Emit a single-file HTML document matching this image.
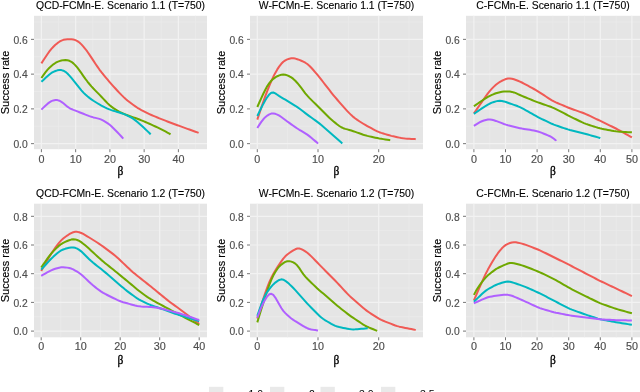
<!DOCTYPE html><html><head><meta charset="utf-8"><style>html,body{margin:0;padding:0;background:#fff;width:640px;height:392px;overflow:hidden}svg{display:block;filter:blur(0.45px)}text{font-family:"Liberation Sans",sans-serif}</style></head><body>
<svg width="640" height="392" viewBox="0 0 640 392">
<rect x="34" y="15.8" width="173" height="133.4" fill="#E5E5E5"/>
<line x1="34" x2="207" y1="126.27" y2="126.27" stroke="#EAEAEA" stroke-width="0.9"/>
<line x1="34" x2="207" y1="91.51" y2="91.51" stroke="#EAEAEA" stroke-width="0.9"/>
<line x1="34" x2="207" y1="56.75" y2="56.75" stroke="#EAEAEA" stroke-width="0.9"/>
<line x1="34" x2="207" y1="21.99" y2="21.99" stroke="#EAEAEA" stroke-width="0.9"/>
<line x1="58.52" x2="58.52" y1="15.8" y2="149.2" stroke="#EAEAEA" stroke-width="0.9"/>
<line x1="92.78" x2="92.78" y1="15.8" y2="149.2" stroke="#EAEAEA" stroke-width="0.9"/>
<line x1="127.03" x2="127.03" y1="15.8" y2="149.2" stroke="#EAEAEA" stroke-width="0.9"/>
<line x1="161.28" x2="161.28" y1="15.8" y2="149.2" stroke="#EAEAEA" stroke-width="0.9"/>
<line x1="195.53" x2="195.53" y1="15.8" y2="149.2" stroke="#EAEAEA" stroke-width="0.9"/>
<line x1="34" x2="207" y1="143.65" y2="143.65" stroke="#F2F2F2" stroke-width="1.2"/>
<line x1="34" x2="207" y1="108.89" y2="108.89" stroke="#F2F2F2" stroke-width="1.2"/>
<line x1="34" x2="207" y1="74.13" y2="74.13" stroke="#F2F2F2" stroke-width="1.2"/>
<line x1="34" x2="207" y1="39.37" y2="39.37" stroke="#F2F2F2" stroke-width="1.2"/>
<line x1="41.4" x2="41.4" y1="15.8" y2="149.2" stroke="#F2F2F2" stroke-width="1.2"/>
<line x1="75.65" x2="75.65" y1="15.8" y2="149.2" stroke="#F2F2F2" stroke-width="1.2"/>
<line x1="109.9" x2="109.9" y1="15.8" y2="149.2" stroke="#F2F2F2" stroke-width="1.2"/>
<line x1="144.15" x2="144.15" y1="15.8" y2="149.2" stroke="#F2F2F2" stroke-width="1.2"/>
<line x1="178.4" x2="178.4" y1="15.8" y2="149.2" stroke="#F2F2F2" stroke-width="1.2"/>
<line x1="31" x2="34" y1="143.65" y2="143.65" stroke="#666" stroke-width="0.9"/>
<text transform="translate(27.7 147.95) scale(1.03 1)" font-size="10" fill="#4D4D4D" stroke="#4D4D4D" stroke-width="0.15" text-anchor="end">0.0</text>
<line x1="31" x2="34" y1="108.89" y2="108.89" stroke="#666" stroke-width="0.9"/>
<text transform="translate(27.7 113.19) scale(1.03 1)" font-size="10" fill="#4D4D4D" stroke="#4D4D4D" stroke-width="0.15" text-anchor="end">0.2</text>
<line x1="31" x2="34" y1="74.13" y2="74.13" stroke="#666" stroke-width="0.9"/>
<text transform="translate(27.7 78.43) scale(1.03 1)" font-size="10" fill="#4D4D4D" stroke="#4D4D4D" stroke-width="0.15" text-anchor="end">0.4</text>
<line x1="31" x2="34" y1="39.37" y2="39.37" stroke="#666" stroke-width="0.9"/>
<text transform="translate(27.7 43.67) scale(1.03 1)" font-size="10" fill="#4D4D4D" stroke="#4D4D4D" stroke-width="0.15" text-anchor="end">0.6</text>
<line x1="41.4" x2="41.4" y1="149.2" y2="152.2" stroke="#666" stroke-width="0.9"/>
<text transform="translate(41.4 162.6) scale(1.08 1)" font-size="10" fill="#4D4D4D" stroke="#4D4D4D" stroke-width="0.15" text-anchor="middle">0</text>
<line x1="75.65" x2="75.65" y1="149.2" y2="152.2" stroke="#666" stroke-width="0.9"/>
<text transform="translate(75.65 162.6) scale(1.08 1)" font-size="10" fill="#4D4D4D" stroke="#4D4D4D" stroke-width="0.15" text-anchor="middle">10</text>
<line x1="109.9" x2="109.9" y1="149.2" y2="152.2" stroke="#666" stroke-width="0.9"/>
<text transform="translate(109.9 162.6) scale(1.08 1)" font-size="10" fill="#4D4D4D" stroke="#4D4D4D" stroke-width="0.15" text-anchor="middle">20</text>
<line x1="144.15" x2="144.15" y1="149.2" y2="152.2" stroke="#666" stroke-width="0.9"/>
<text transform="translate(144.15 162.6) scale(1.08 1)" font-size="10" fill="#4D4D4D" stroke="#4D4D4D" stroke-width="0.15" text-anchor="middle">30</text>
<line x1="178.4" x2="178.4" y1="149.2" y2="152.2" stroke="#666" stroke-width="0.9"/>
<text transform="translate(178.4 162.6) scale(1.08 1)" font-size="10" fill="#4D4D4D" stroke="#4D4D4D" stroke-width="0.15" text-anchor="middle">40</text>
<path d="M41.4 63.35L43.4 60.28L45.4 57.22L47.4 54.23L49.4 51.43L51.4 48.94L53.4 46.76L55.4 44.83L57.4 43.16L59.4 41.74L61.4 40.6L63.4 39.83L65.4 39.41L67.4 39.21L69.4 39.16L71.4 39.24L73.4 39.52L75.4 40.11L77.4 41.11L79.4 42.54L81.4 44.38L83.4 46.57L85.4 49.02L87.4 51.71L89.4 54.61L91.4 57.62L93.4 60.66L95.4 63.69L97.4 66.68L99.4 69.54L101.4 72.21L103.4 74.71L105.4 77.11L107.4 79.48L109.4 81.81L111.4 84.09L113.4 86.32L115.4 88.52L117.4 90.71L119.4 92.85L121.4 94.91L123.4 96.88L125.4 98.74L127.4 100.43L129.4 102L131.4 103.5L133.4 104.97L135.4 106.41L137.4 107.77L139.4 108.98L141.4 110.08L143.4 111.11L145.4 112.13L147.4 113.13L149.4 114.09L151.4 115L153.4 115.87L155.4 116.7L157.4 117.53L159.4 118.35L161.4 119.15L163.4 119.93L165.4 120.69L167.4 121.44L169.4 122.2L171.4 122.95L173.4 123.7L175.4 124.45L177.4 125.19L179.4 125.93L181.4 126.66L183.4 127.38L185.4 128.1L187.4 128.83L189.4 129.55L191.4 130.27L193.4 130.99L195.4 131.71L197.4 132.41L198.61 132.92" fill="none" stroke="#F05A55" stroke-width="2.0" stroke-linecap="butt" stroke-linejoin="round"/>
<path d="M41.4 77.96L43.4 75.15L45.4 72.44L47.4 69.94L49.4 67.79L51.4 65.95L53.4 64.32L55.4 62.95L57.4 61.9L59.4 61.11L61.4 60.51L63.4 60.14L65.4 60.05L67.4 60.23L69.4 60.77L71.4 61.8L73.4 63.37L75.4 65.36L77.4 67.71L79.4 70.37L81.4 73.2L83.4 76.07L85.4 78.86L87.4 81.51L89.4 84L91.4 86.34L93.4 88.53L95.4 90.61L97.4 92.63L99.4 94.66L101.4 96.74L103.4 98.88L105.4 101.03L107.4 103.11L109.4 105L111.4 106.64L113.4 108.1L115.4 109.45L117.4 110.69L119.4 111.78L121.4 112.74L123.4 113.64L125.4 114.49L127.4 115.26L129.4 115.98L131.4 116.66L133.4 117.33L135.4 118.01L137.4 118.72L139.4 119.49L141.4 120.31L143.4 121.17L145.4 122.03L147.4 122.9L149.4 123.78L151.4 124.68L153.4 125.59L155.4 126.52L157.4 127.44L159.4 128.39L161.4 129.37L163.4 130.41L165.4 131.47L167.4 132.54L169.4 133.59L170.52 134.36" fill="none" stroke="#6FA800" stroke-width="2.0" stroke-linecap="butt" stroke-linejoin="round"/>
<path d="M41.4 81.78L43.4 79.92L45.4 78.06L47.4 76.22L49.4 74.48L51.4 72.97L53.4 71.82L55.4 70.98L57.4 70.36L59.4 70.03L61.4 70.11L63.4 70.68L65.4 71.81L67.4 73.51L69.4 75.61L71.4 77.92L73.4 80.36L75.4 82.87L77.4 85.42L79.4 87.95L81.4 90.4L83.4 92.63L85.4 94.57L87.4 96.28L89.4 97.86L91.4 99.35L93.4 100.74L95.4 102.02L97.4 103.25L99.4 104.43L101.4 105.55L103.4 106.61L105.4 107.63L107.4 108.59L109.4 109.43L111.4 110.15L113.4 110.77L115.4 111.35L117.4 111.94L119.4 112.56L121.4 113.2L123.4 113.88L125.4 114.64L127.4 115.54L129.4 116.57L131.4 117.71L133.4 118.95L135.4 120.36L137.4 121.96L139.4 123.7L141.4 125.49L143.4 127.33L145.4 129.2L147.4 131.1L149.4 132.98L150.66 134.37" fill="none" stroke="#00B8C0" stroke-width="2.0" stroke-linecap="butt" stroke-linejoin="round"/>
<path d="M41.4 109.59L43.4 107.63L45.4 105.7L47.4 103.89L49.4 102.35L51.4 101.19L53.4 100.4L55.4 100L57.4 100.11L59.4 100.74L61.4 101.82L63.4 103.29L65.4 105.02L67.4 106.69L69.4 108.03L71.4 109.04L73.4 109.88L75.4 110.66L77.4 111.44L79.4 112.23L81.4 113.01L83.4 113.8L85.4 114.59L87.4 115.38L89.4 116.14L91.4 116.83L93.4 117.41L95.4 117.89L97.4 118.35L99.4 118.91L101.4 119.67L103.4 120.66L105.4 121.8L107.4 123.08L109.4 124.56L111.4 126.29L113.4 128.2L115.4 130.19L117.4 132.24L119.4 134.36L121.4 136.52L123.26 138.68" fill="none" stroke="#B060FF" stroke-width="2.0" stroke-linecap="butt" stroke-linejoin="round"/>
<text x="120.5" y="8.6" font-size="10.4" fill="#000" stroke="#000" stroke-width="0.12" text-anchor="middle">QCD-FCMn-E. Scenario 1.1 (T=750)</text>
<text x="120.5" y="175.2" font-size="11.5" fill="#000" stroke="#000" stroke-width="0.3" style="font-family:'Liberation Serif',serif" text-anchor="middle">β</text>
<text transform="translate(8.5 82.5) rotate(-90)" font-size="11" fill="#000" stroke="#000" stroke-width="0.15" text-anchor="middle">Success rate</text>
<rect x="250" y="15.8" width="173" height="133.4" fill="#E5E5E5"/>
<line x1="250" x2="423" y1="126.27" y2="126.27" stroke="#EAEAEA" stroke-width="0.9"/>
<line x1="250" x2="423" y1="91.51" y2="91.51" stroke="#EAEAEA" stroke-width="0.9"/>
<line x1="250" x2="423" y1="56.75" y2="56.75" stroke="#EAEAEA" stroke-width="0.9"/>
<line x1="250" x2="423" y1="21.99" y2="21.99" stroke="#EAEAEA" stroke-width="0.9"/>
<line x1="287.65" x2="287.65" y1="15.8" y2="149.2" stroke="#EAEAEA" stroke-width="0.9"/>
<line x1="348.35" x2="348.35" y1="15.8" y2="149.2" stroke="#EAEAEA" stroke-width="0.9"/>
<line x1="409.05" x2="409.05" y1="15.8" y2="149.2" stroke="#EAEAEA" stroke-width="0.9"/>
<line x1="250" x2="423" y1="143.65" y2="143.65" stroke="#F2F2F2" stroke-width="1.2"/>
<line x1="250" x2="423" y1="108.89" y2="108.89" stroke="#F2F2F2" stroke-width="1.2"/>
<line x1="250" x2="423" y1="74.13" y2="74.13" stroke="#F2F2F2" stroke-width="1.2"/>
<line x1="250" x2="423" y1="39.37" y2="39.37" stroke="#F2F2F2" stroke-width="1.2"/>
<line x1="257.3" x2="257.3" y1="15.8" y2="149.2" stroke="#F2F2F2" stroke-width="1.2"/>
<line x1="318" x2="318" y1="15.8" y2="149.2" stroke="#F2F2F2" stroke-width="1.2"/>
<line x1="378.7" x2="378.7" y1="15.8" y2="149.2" stroke="#F2F2F2" stroke-width="1.2"/>
<line x1="247" x2="250" y1="143.65" y2="143.65" stroke="#666" stroke-width="0.9"/>
<text transform="translate(243.7 147.95) scale(1.03 1)" font-size="10" fill="#4D4D4D" stroke="#4D4D4D" stroke-width="0.15" text-anchor="end">0.0</text>
<line x1="247" x2="250" y1="108.89" y2="108.89" stroke="#666" stroke-width="0.9"/>
<text transform="translate(243.7 113.19) scale(1.03 1)" font-size="10" fill="#4D4D4D" stroke="#4D4D4D" stroke-width="0.15" text-anchor="end">0.2</text>
<line x1="247" x2="250" y1="74.13" y2="74.13" stroke="#666" stroke-width="0.9"/>
<text transform="translate(243.7 78.43) scale(1.03 1)" font-size="10" fill="#4D4D4D" stroke="#4D4D4D" stroke-width="0.15" text-anchor="end">0.4</text>
<line x1="247" x2="250" y1="39.37" y2="39.37" stroke="#666" stroke-width="0.9"/>
<text transform="translate(243.7 43.67) scale(1.03 1)" font-size="10" fill="#4D4D4D" stroke="#4D4D4D" stroke-width="0.15" text-anchor="end">0.6</text>
<line x1="257.3" x2="257.3" y1="149.2" y2="152.2" stroke="#666" stroke-width="0.9"/>
<text transform="translate(257.3 162.6) scale(1.08 1)" font-size="10" fill="#4D4D4D" stroke="#4D4D4D" stroke-width="0.15" text-anchor="middle">0</text>
<line x1="318" x2="318" y1="149.2" y2="152.2" stroke="#666" stroke-width="0.9"/>
<text transform="translate(318 162.6) scale(1.08 1)" font-size="10" fill="#4D4D4D" stroke="#4D4D4D" stroke-width="0.15" text-anchor="middle">10</text>
<line x1="378.7" x2="378.7" y1="149.2" y2="152.2" stroke="#666" stroke-width="0.9"/>
<text transform="translate(378.7 162.6) scale(1.08 1)" font-size="10" fill="#4D4D4D" stroke="#4D4D4D" stroke-width="0.15" text-anchor="middle">20</text>
<path d="M257.3 119.67L259.3 113.65L261.3 107.65L263.3 101.75L265.3 96.09L267.3 90.79L269.3 85.81L271.3 81.13L273.3 76.81L275.3 72.9L277.3 69.39L279.3 66.34L281.3 63.77L283.3 61.75L285.3 60.32L287.3 59.38L289.3 58.73L291.3 58.33L293.3 58.28L295.3 58.61L297.3 59.19L299.3 59.91L301.3 60.75L303.3 61.68L305.3 62.73L307.3 64.02L309.3 65.71L311.3 67.76L313.3 70L315.3 72.31L317.3 74.68L319.3 77.14L321.3 79.68L323.3 82.25L325.3 84.83L327.3 87.41L329.3 89.98L331.3 92.52L333.3 95.01L335.3 97.42L337.3 99.77L339.3 102.09L341.3 104.4L343.3 106.69L345.3 108.91L347.3 111.07L349.3 113.16L351.3 115.12L353.3 116.9L355.3 118.47L357.3 119.91L359.3 121.24L361.3 122.52L363.3 123.75L365.3 124.94L367.3 126.08L369.3 127.17L371.3 128.24L373.3 129.3L375.3 130.35L377.3 131.33L379.3 132.19L381.3 132.92L383.3 133.55L385.3 134.16L387.3 134.76L389.3 135.33L391.3 135.86L393.3 136.34L395.3 136.78L397.3 137.21L399.3 137.63L401.3 138.02L403.3 138.32L405.3 138.52L407.3 138.66L409.3 138.78L411.3 138.89L413.3 139L415.3 139.11L415.73 139.13" fill="none" stroke="#F05A55" stroke-width="2.0" stroke-linecap="butt" stroke-linejoin="round"/>
<path d="M257.3 106.98L259.3 102.51L261.3 98.09L263.3 93.79L265.3 89.72L267.3 86.08L269.3 83.09L271.3 80.74L273.3 78.84L275.3 77.33L277.3 76.22L279.3 75.41L281.3 74.82L283.3 74.56L285.3 74.77L287.3 75.4L289.3 76.28L291.3 77.41L293.3 78.9L295.3 80.79L297.3 82.97L299.3 85.37L301.3 87.96L303.3 90.66L305.3 93.28L307.3 95.68L309.3 97.84L311.3 99.86L313.3 101.84L315.3 103.82L317.3 105.79L319.3 107.78L321.3 109.78L323.3 111.78L325.3 113.79L327.3 115.78L329.3 117.71L331.3 119.53L333.3 121.24L335.3 122.87L337.3 124.47L339.3 125.97L341.3 127.25L343.3 128.19L345.3 128.85L347.3 129.4L349.3 129.95L351.3 130.55L353.3 131.21L355.3 131.9L357.3 132.61L359.3 133.31L361.3 134.01L363.3 134.7L365.3 135.33L367.3 135.89L369.3 136.37L371.3 136.82L373.3 137.26L375.3 137.69L377.3 138.1L379.3 138.48L381.3 138.81L383.3 139.13L385.3 139.43L387.3 139.73L389.3 140.03L390.23 140.18" fill="none" stroke="#6FA800" stroke-width="2.0" stroke-linecap="butt" stroke-linejoin="round"/>
<path d="M257.3 116.02L259.3 111.86L261.3 107.78L263.3 103.89L265.3 100.3L267.3 97.08L269.3 94.44L271.3 92.82L273.3 92.52L275.3 93.35L277.3 94.72L279.3 96.12L281.3 97.39L283.3 98.58L285.3 99.74L287.3 100.91L289.3 102.1L291.3 103.31L293.3 104.53L295.3 105.78L297.3 107.1L299.3 108.53L301.3 110.04L303.3 111.58L305.3 113.11L307.3 114.62L309.3 116.09L311.3 117.53L313.3 118.95L315.3 120.38L317.3 121.84L319.3 123.37L321.3 124.99L323.3 126.69L325.3 128.42L327.3 130.15L329.3 131.9L331.3 133.66L333.3 135.44L335.3 137.22L337.3 139.02L339.3 140.8L341.3 142.59L342.28 143.48" fill="none" stroke="#00B8C0" stroke-width="2.0" stroke-linecap="butt" stroke-linejoin="round"/>
<path d="M257.3 128.01L259.3 124.91L261.3 121.93L263.3 119.28L265.3 117.17L267.3 115.59L269.3 114.38L271.3 113.62L273.3 113.44L275.3 113.82L277.3 114.59L279.3 115.67L281.3 117L283.3 118.46L285.3 119.96L287.3 121.45L289.3 122.92L291.3 124.36L293.3 125.79L295.3 127.19L297.3 128.52L299.3 129.77L301.3 130.95L303.3 132.11L305.3 133.31L307.3 134.63L309.3 136.11L311.3 137.74L313.3 139.43L315.3 141.12L317.3 142.78L318 143.59" fill="none" stroke="#B060FF" stroke-width="2.0" stroke-linecap="butt" stroke-linejoin="round"/>
<text x="336.5" y="8.6" font-size="10.4" fill="#000" stroke="#000" stroke-width="0.12" text-anchor="middle">W-FCMn-E. Scenario 1.1 (T=750)</text>
<text x="336.5" y="175.2" font-size="11.5" fill="#000" stroke="#000" stroke-width="0.3" style="font-family:'Liberation Serif',serif" text-anchor="middle">β</text>
<text transform="translate(224.5 82.5) rotate(-90)" font-size="11" fill="#000" stroke="#000" stroke-width="0.15" text-anchor="middle">Success rate</text>
<rect x="466" y="15.8" width="174" height="133.4" fill="#E5E5E5"/>
<line x1="466" x2="640" y1="126.27" y2="126.27" stroke="#EAEAEA" stroke-width="0.9"/>
<line x1="466" x2="640" y1="91.51" y2="91.51" stroke="#EAEAEA" stroke-width="0.9"/>
<line x1="466" x2="640" y1="56.75" y2="56.75" stroke="#EAEAEA" stroke-width="0.9"/>
<line x1="466" x2="640" y1="21.99" y2="21.99" stroke="#EAEAEA" stroke-width="0.9"/>
<line x1="489.7" x2="489.7" y1="15.8" y2="149.2" stroke="#EAEAEA" stroke-width="0.9"/>
<line x1="521.3" x2="521.3" y1="15.8" y2="149.2" stroke="#EAEAEA" stroke-width="0.9"/>
<line x1="552.9" x2="552.9" y1="15.8" y2="149.2" stroke="#EAEAEA" stroke-width="0.9"/>
<line x1="584.5" x2="584.5" y1="15.8" y2="149.2" stroke="#EAEAEA" stroke-width="0.9"/>
<line x1="616.1" x2="616.1" y1="15.8" y2="149.2" stroke="#EAEAEA" stroke-width="0.9"/>
<line x1="466" x2="640" y1="143.65" y2="143.65" stroke="#F2F2F2" stroke-width="1.2"/>
<line x1="466" x2="640" y1="108.89" y2="108.89" stroke="#F2F2F2" stroke-width="1.2"/>
<line x1="466" x2="640" y1="74.13" y2="74.13" stroke="#F2F2F2" stroke-width="1.2"/>
<line x1="466" x2="640" y1="39.37" y2="39.37" stroke="#F2F2F2" stroke-width="1.2"/>
<line x1="473.9" x2="473.9" y1="15.8" y2="149.2" stroke="#F2F2F2" stroke-width="1.2"/>
<line x1="505.5" x2="505.5" y1="15.8" y2="149.2" stroke="#F2F2F2" stroke-width="1.2"/>
<line x1="537.1" x2="537.1" y1="15.8" y2="149.2" stroke="#F2F2F2" stroke-width="1.2"/>
<line x1="568.7" x2="568.7" y1="15.8" y2="149.2" stroke="#F2F2F2" stroke-width="1.2"/>
<line x1="600.3" x2="600.3" y1="15.8" y2="149.2" stroke="#F2F2F2" stroke-width="1.2"/>
<line x1="631.9" x2="631.9" y1="15.8" y2="149.2" stroke="#F2F2F2" stroke-width="1.2"/>
<line x1="463" x2="466" y1="143.65" y2="143.65" stroke="#666" stroke-width="0.9"/>
<text transform="translate(459.7 147.95) scale(1.03 1)" font-size="10" fill="#4D4D4D" stroke="#4D4D4D" stroke-width="0.15" text-anchor="end">0.0</text>
<line x1="463" x2="466" y1="108.89" y2="108.89" stroke="#666" stroke-width="0.9"/>
<text transform="translate(459.7 113.19) scale(1.03 1)" font-size="10" fill="#4D4D4D" stroke="#4D4D4D" stroke-width="0.15" text-anchor="end">0.2</text>
<line x1="463" x2="466" y1="74.13" y2="74.13" stroke="#666" stroke-width="0.9"/>
<text transform="translate(459.7 78.43) scale(1.03 1)" font-size="10" fill="#4D4D4D" stroke="#4D4D4D" stroke-width="0.15" text-anchor="end">0.4</text>
<line x1="463" x2="466" y1="39.37" y2="39.37" stroke="#666" stroke-width="0.9"/>
<text transform="translate(459.7 43.67) scale(1.03 1)" font-size="10" fill="#4D4D4D" stroke="#4D4D4D" stroke-width="0.15" text-anchor="end">0.6</text>
<line x1="473.9" x2="473.9" y1="149.2" y2="152.2" stroke="#666" stroke-width="0.9"/>
<text transform="translate(473.9 162.6) scale(1.08 1)" font-size="10" fill="#4D4D4D" stroke="#4D4D4D" stroke-width="0.15" text-anchor="middle">0</text>
<line x1="505.5" x2="505.5" y1="149.2" y2="152.2" stroke="#666" stroke-width="0.9"/>
<text transform="translate(505.5 162.6) scale(1.08 1)" font-size="10" fill="#4D4D4D" stroke="#4D4D4D" stroke-width="0.15" text-anchor="middle">10</text>
<line x1="537.1" x2="537.1" y1="149.2" y2="152.2" stroke="#666" stroke-width="0.9"/>
<text transform="translate(537.1 162.6) scale(1.08 1)" font-size="10" fill="#4D4D4D" stroke="#4D4D4D" stroke-width="0.15" text-anchor="middle">20</text>
<line x1="568.7" x2="568.7" y1="149.2" y2="152.2" stroke="#666" stroke-width="0.9"/>
<text transform="translate(568.7 162.6) scale(1.08 1)" font-size="10" fill="#4D4D4D" stroke="#4D4D4D" stroke-width="0.15" text-anchor="middle">30</text>
<line x1="600.3" x2="600.3" y1="149.2" y2="152.2" stroke="#666" stroke-width="0.9"/>
<text transform="translate(600.3 162.6) scale(1.08 1)" font-size="10" fill="#4D4D4D" stroke="#4D4D4D" stroke-width="0.15" text-anchor="middle">40</text>
<line x1="631.9" x2="631.9" y1="149.2" y2="152.2" stroke="#666" stroke-width="0.9"/>
<text transform="translate(631.9 162.6) scale(1.08 1)" font-size="10" fill="#4D4D4D" stroke="#4D4D4D" stroke-width="0.15" text-anchor="middle">50</text>
<path d="M473.9 113.41L475.9 110.5L477.9 107.6L479.9 104.7L481.9 101.82L483.9 98.95L485.9 96.11L487.9 93.38L489.9 90.86L491.9 88.64L493.9 86.63L495.9 84.8L497.9 83.21L499.9 81.89L501.9 80.77L503.9 79.81L505.9 79.05L507.9 78.59L509.9 78.48L511.9 78.75L513.9 79.3L515.9 79.98L517.9 80.72L519.9 81.56L521.9 82.51L523.9 83.55L525.9 84.63L527.9 85.71L529.9 86.8L531.9 87.9L533.9 89L535.9 90.14L537.9 91.35L539.9 92.61L541.9 93.89L543.9 95.19L545.9 96.49L547.9 97.79L549.9 99.06L551.9 100.28L553.9 101.38L555.9 102.34L557.9 103.23L559.9 104.09L561.9 104.94L563.9 105.79L565.9 106.64L567.9 107.47L569.9 108.27L571.9 109.02L573.9 109.73L575.9 110.43L577.9 111.12L579.9 111.82L581.9 112.53L583.9 113.29L585.9 114.13L587.9 115.03L589.9 115.96L591.9 116.91L593.9 117.86L595.9 118.8L597.9 119.75L599.9 120.7L601.9 121.66L603.9 122.63L605.9 123.59L607.9 124.56L609.9 125.53L611.9 126.5L613.9 127.48L615.9 128.5L617.9 129.57L619.9 130.67L621.9 131.78L623.9 132.91L625.9 134.03L627.9 135.15L629.9 136.27L631.9 137.39" fill="none" stroke="#F05A55" stroke-width="2.0" stroke-linecap="butt" stroke-linejoin="round"/>
<path d="M473.9 106.28L475.9 104.88L477.9 103.47L479.9 102.08L481.9 100.72L483.9 99.4L485.9 98.13L487.9 96.91L489.9 95.82L491.9 94.88L493.9 94.05L495.9 93.31L497.9 92.69L499.9 92.2L501.9 91.83L503.9 91.55L505.9 91.41L507.9 91.44L509.9 91.6L511.9 91.9L513.9 92.42L515.9 93.18L517.9 94.09L519.9 95.01L521.9 95.89L523.9 96.73L525.9 97.55L527.9 98.37L529.9 99.19L531.9 100.01L533.9 100.81L535.9 101.6L537.9 102.35L539.9 103.06L541.9 103.76L543.9 104.45L545.9 105.14L547.9 105.84L549.9 106.55L551.9 107.3L553.9 108.15L555.9 109.1L557.9 110.11L559.9 111.14L561.9 112.18L563.9 113.22L565.9 114.25L567.9 115.28L569.9 116.3L571.9 117.3L573.9 118.29L575.9 119.27L577.9 120.25L579.9 121.23L581.9 122.18L583.9 123.07L585.9 123.86L587.9 124.56L589.9 125.21L591.9 125.85L593.9 126.49L595.9 127.12L597.9 127.73L599.9 128.29L601.9 128.78L603.9 129.19L605.9 129.58L607.9 129.95L609.9 130.32L611.9 130.69L613.9 131.04L615.9 131.33L617.9 131.54L619.9 131.68L621.9 131.8L623.9 131.91L625.9 132.02L627.9 132.13L629.9 132.24L631.9 132.35" fill="none" stroke="#6FA800" stroke-width="2.0" stroke-linecap="butt" stroke-linejoin="round"/>
<path d="M473.9 113.93L475.9 112.52L477.9 111.12L479.9 109.73L481.9 108.37L483.9 107.05L485.9 105.78L487.9 104.58L489.9 103.54L491.9 102.68L493.9 101.97L495.9 101.36L497.9 100.9L499.9 100.71L501.9 100.91L503.9 101.41L505.9 102.07L507.9 102.77L509.9 103.46L511.9 104.16L513.9 104.85L515.9 105.56L517.9 106.3L519.9 107.14L521.9 108.12L523.9 109.2L525.9 110.32L527.9 111.46L529.9 112.6L531.9 113.74L533.9 114.88L535.9 115.98L537.9 117.04L539.9 118.05L541.9 119.03L543.9 120L545.9 120.97L547.9 121.94L549.9 122.89L551.9 123.79L553.9 124.62L555.9 125.36L557.9 126.06L559.9 126.74L561.9 127.43L563.9 128.11L565.9 128.77L567.9 129.41L569.9 129.99L571.9 130.51L573.9 131L575.9 131.49L577.9 131.97L579.9 132.46L581.9 132.95L583.9 133.46L585.9 133.99L587.9 134.55L589.9 135.11L591.9 135.69L593.9 136.26L595.9 136.83L597.9 137.4L599.9 137.96L600.3 138.1" fill="none" stroke="#00B8C0" stroke-width="2.0" stroke-linecap="butt" stroke-linejoin="round"/>
<path d="M473.9 125.92L475.9 124.65L477.9 123.4L479.9 122.22L481.9 121.23L483.9 120.49L485.9 119.95L487.9 119.6L489.9 119.53L491.9 119.79L493.9 120.3L495.9 120.92L497.9 121.62L499.9 122.39L501.9 123.19L503.9 123.97L505.9 124.66L507.9 125.25L509.9 125.76L511.9 126.25L513.9 126.74L515.9 127.22L517.9 127.7L519.9 128.15L521.9 128.56L523.9 128.91L525.9 129.23L527.9 129.55L529.9 129.85L531.9 130.17L533.9 130.5L535.9 130.91L537.9 131.45L539.9 132.13L541.9 132.91L543.9 133.71L545.9 134.52L547.9 135.35L549.9 136.24L551.9 137.33L553.9 138.74L555.9 140.45L556.06 140.92" fill="none" stroke="#B060FF" stroke-width="2.0" stroke-linecap="butt" stroke-linejoin="round"/>
<text x="553" y="8.6" font-size="10.4" fill="#000" stroke="#000" stroke-width="0.12" text-anchor="middle">C-FCMn-E. Scenario 1.1 (T=750)</text>
<text x="553" y="175.2" font-size="11.5" fill="#000" stroke="#000" stroke-width="0.3" style="font-family:'Liberation Serif',serif" text-anchor="middle">β</text>
<text transform="translate(440.5 82.5) rotate(-90)" font-size="11" fill="#000" stroke="#000" stroke-width="0.15" text-anchor="middle">Success rate</text>
<rect x="34" y="203.7" width="173" height="133.6" fill="#E5E5E5"/>
<line x1="34" x2="207" y1="316.75" y2="316.75" stroke="#EAEAEA" stroke-width="0.9"/>
<line x1="34" x2="207" y1="288.05" y2="288.05" stroke="#EAEAEA" stroke-width="0.9"/>
<line x1="34" x2="207" y1="259.35" y2="259.35" stroke="#EAEAEA" stroke-width="0.9"/>
<line x1="34" x2="207" y1="230.65" y2="230.65" stroke="#EAEAEA" stroke-width="0.9"/>
<line x1="60.95" x2="60.95" y1="203.7" y2="337.3" stroke="#EAEAEA" stroke-width="0.9"/>
<line x1="100.45" x2="100.45" y1="203.7" y2="337.3" stroke="#EAEAEA" stroke-width="0.9"/>
<line x1="139.95" x2="139.95" y1="203.7" y2="337.3" stroke="#EAEAEA" stroke-width="0.9"/>
<line x1="179.45" x2="179.45" y1="203.7" y2="337.3" stroke="#EAEAEA" stroke-width="0.9"/>
<line x1="34" x2="207" y1="331.1" y2="331.1" stroke="#F2F2F2" stroke-width="1.2"/>
<line x1="34" x2="207" y1="302.4" y2="302.4" stroke="#F2F2F2" stroke-width="1.2"/>
<line x1="34" x2="207" y1="273.7" y2="273.7" stroke="#F2F2F2" stroke-width="1.2"/>
<line x1="34" x2="207" y1="245" y2="245" stroke="#F2F2F2" stroke-width="1.2"/>
<line x1="34" x2="207" y1="216.3" y2="216.3" stroke="#F2F2F2" stroke-width="1.2"/>
<line x1="41.2" x2="41.2" y1="203.7" y2="337.3" stroke="#F2F2F2" stroke-width="1.2"/>
<line x1="80.7" x2="80.7" y1="203.7" y2="337.3" stroke="#F2F2F2" stroke-width="1.2"/>
<line x1="120.2" x2="120.2" y1="203.7" y2="337.3" stroke="#F2F2F2" stroke-width="1.2"/>
<line x1="159.7" x2="159.7" y1="203.7" y2="337.3" stroke="#F2F2F2" stroke-width="1.2"/>
<line x1="199.2" x2="199.2" y1="203.7" y2="337.3" stroke="#F2F2F2" stroke-width="1.2"/>
<line x1="31" x2="34" y1="331.1" y2="331.1" stroke="#666" stroke-width="0.9"/>
<text transform="translate(27.7 335.4) scale(1.03 1)" font-size="10" fill="#4D4D4D" stroke="#4D4D4D" stroke-width="0.15" text-anchor="end">0.0</text>
<line x1="31" x2="34" y1="302.4" y2="302.4" stroke="#666" stroke-width="0.9"/>
<text transform="translate(27.7 306.7) scale(1.03 1)" font-size="10" fill="#4D4D4D" stroke="#4D4D4D" stroke-width="0.15" text-anchor="end">0.2</text>
<line x1="31" x2="34" y1="273.7" y2="273.7" stroke="#666" stroke-width="0.9"/>
<text transform="translate(27.7 278) scale(1.03 1)" font-size="10" fill="#4D4D4D" stroke="#4D4D4D" stroke-width="0.15" text-anchor="end">0.4</text>
<line x1="31" x2="34" y1="245" y2="245" stroke="#666" stroke-width="0.9"/>
<text transform="translate(27.7 249.3) scale(1.03 1)" font-size="10" fill="#4D4D4D" stroke="#4D4D4D" stroke-width="0.15" text-anchor="end">0.6</text>
<line x1="31" x2="34" y1="216.3" y2="216.3" stroke="#666" stroke-width="0.9"/>
<text transform="translate(27.7 220.6) scale(1.03 1)" font-size="10" fill="#4D4D4D" stroke="#4D4D4D" stroke-width="0.15" text-anchor="end">0.8</text>
<line x1="41.2" x2="41.2" y1="337.3" y2="340.3" stroke="#666" stroke-width="0.9"/>
<text transform="translate(41.2 349.8) scale(1.08 1)" font-size="10" fill="#4D4D4D" stroke="#4D4D4D" stroke-width="0.15" text-anchor="middle">0</text>
<line x1="80.7" x2="80.7" y1="337.3" y2="340.3" stroke="#666" stroke-width="0.9"/>
<text transform="translate(80.7 349.8) scale(1.08 1)" font-size="10" fill="#4D4D4D" stroke="#4D4D4D" stroke-width="0.15" text-anchor="middle">10</text>
<line x1="120.2" x2="120.2" y1="337.3" y2="340.3" stroke="#666" stroke-width="0.9"/>
<text transform="translate(120.2 349.8) scale(1.08 1)" font-size="10" fill="#4D4D4D" stroke="#4D4D4D" stroke-width="0.15" text-anchor="middle">20</text>
<line x1="159.7" x2="159.7" y1="337.3" y2="340.3" stroke="#666" stroke-width="0.9"/>
<text transform="translate(159.7 349.8) scale(1.08 1)" font-size="10" fill="#4D4D4D" stroke="#4D4D4D" stroke-width="0.15" text-anchor="middle">30</text>
<line x1="199.2" x2="199.2" y1="337.3" y2="340.3" stroke="#666" stroke-width="0.9"/>
<text transform="translate(199.2 349.8) scale(1.08 1)" font-size="10" fill="#4D4D4D" stroke="#4D4D4D" stroke-width="0.15" text-anchor="middle">40</text>
<path d="M41.2 270.97L43.2 267.46L45.2 263.94L47.2 260.45L49.2 257.03L51.2 253.79L53.2 250.78L55.2 247.94L57.2 245.21L59.2 242.63L61.2 240.39L63.2 238.54L65.2 236.98L67.2 235.55L69.2 234.22L71.2 233.06L73.2 232.23L75.2 231.83L77.2 231.87L79.2 232.28L81.2 232.99L83.2 233.96L85.2 235.1L87.2 236.3L89.2 237.51L91.2 238.75L93.2 240L95.2 241.26L97.2 242.53L99.2 243.84L101.2 245.21L103.2 246.64L105.2 248.11L107.2 249.6L109.2 251.1L111.2 252.6L113.2 254.13L115.2 255.75L117.2 257.49L119.2 259.33L121.2 261.21L123.2 263.11L125.2 265.01L127.2 266.91L129.2 268.8L131.2 270.65L133.2 272.42L135.2 274.1L137.2 275.71L139.2 277.3L141.2 278.88L143.2 280.46L145.2 282.04L147.2 283.63L149.2 285.22L151.2 286.83L153.2 288.45L155.2 290.09L157.2 291.72L159.2 293.36L161.2 295L163.2 296.64L165.2 298.27L167.2 299.88L169.2 301.45L171.2 302.95L173.2 304.4L175.2 305.83L177.2 307.26L179.2 308.72L181.2 310.2L183.2 311.69L185.2 313.2L187.2 314.72L189.2 316.24L191.2 317.77L193.2 319.3L195.2 320.84L197.2 322.38L199.2 323.93" fill="none" stroke="#F05A55" stroke-width="2.0" stroke-linecap="butt" stroke-linejoin="round"/>
<path d="M41.2 267.53L43.2 264.65L45.2 261.78L47.2 258.93L49.2 256.17L51.2 253.64L53.2 251.38L55.2 249.34L57.2 247.4L59.2 245.61L61.2 244.07L63.2 242.86L65.2 241.88L67.2 241.01L69.2 240.22L71.2 239.6L73.2 239.29L75.2 239.41L77.2 239.98L79.2 240.92L81.2 242.17L83.2 243.68L85.2 245.35L87.2 247.09L89.2 248.86L91.2 250.66L93.2 252.52L95.2 254.39L97.2 256.26L99.2 258.1L101.2 259.86L103.2 261.53L105.2 263.16L107.2 264.77L109.2 266.37L111.2 267.98L113.2 269.59L115.2 271.21L117.2 272.84L119.2 274.47L121.2 276.1L123.2 277.74L125.2 279.38L127.2 281.04L129.2 282.71L131.2 284.39L133.2 286.08L135.2 287.76L137.2 289.41L139.2 291L141.2 292.52L143.2 293.99L145.2 295.45L147.2 296.87L149.2 298.22L151.2 299.47L153.2 300.61L155.2 301.7L157.2 302.78L159.2 303.85L161.2 304.93L163.2 306L165.2 307.08L167.2 308.15L169.2 309.23L171.2 310.31L173.2 311.38L175.2 312.46L177.2 313.53L179.2 314.59L181.2 315.65L183.2 316.7L185.2 317.75L187.2 318.8L189.2 319.84L191.2 320.89L193.2 321.93L195.2 322.98L197.2 324.03L199.2 325.07" fill="none" stroke="#6FA800" stroke-width="2.0" stroke-linecap="butt" stroke-linejoin="round"/>
<path d="M41.2 269.68L43.2 267.44L45.2 265.21L47.2 262.98L49.2 260.81L51.2 258.75L53.2 256.85L55.2 255.05L57.2 253.34L59.2 251.76L61.2 250.46L63.2 249.52L65.2 248.82L67.2 248.23L69.2 247.74L71.2 247.44L73.2 247.44L75.2 247.85L77.2 248.67L79.2 249.84L81.2 251.35L83.2 253.17L85.2 255.17L87.2 257.23L89.2 259.22L91.2 261.08L93.2 262.77L95.2 264.36L97.2 265.92L99.2 267.48L101.2 269.06L103.2 270.69L105.2 272.36L107.2 274.06L109.2 275.77L111.2 277.48L113.2 279.19L115.2 280.92L117.2 282.65L119.2 284.39L121.2 286.14L123.2 287.86L125.2 289.55L127.2 291.15L129.2 292.66L131.2 294.12L133.2 295.55L135.2 296.96L137.2 298.32L139.2 299.55L141.2 300.65L143.2 301.65L145.2 302.61L147.2 303.55L149.2 304.44L151.2 305.23L153.2 305.95L155.2 306.63L157.2 307.31L159.2 308L161.2 308.7L163.2 309.41L165.2 310.14L167.2 310.86L169.2 311.59L171.2 312.31L173.2 313.03L175.2 313.71L177.2 314.37L179.2 315L181.2 315.62L183.2 316.24L185.2 316.86L187.2 317.48L189.2 318.1L191.2 318.72L193.2 319.34L195.2 319.96L197.2 320.58L199.2 321.2" fill="none" stroke="#00B8C0" stroke-width="2.0" stroke-linecap="butt" stroke-linejoin="round"/>
<path d="M41.2 275.85L43.2 274.69L45.2 273.53L47.2 272.38L49.2 271.29L51.2 270.32L53.2 269.51L55.2 268.81L57.2 268.19L59.2 267.67L61.2 267.35L63.2 267.29L65.2 267.41L67.2 267.63L69.2 267.98L71.2 268.57L73.2 269.45L75.2 270.53L77.2 271.7L79.2 272.99L81.2 274.49L83.2 276.23L85.2 278.11L87.2 280.05L89.2 281.98L91.2 283.83L93.2 285.55L95.2 287.15L97.2 288.68L99.2 290.17L101.2 291.58L103.2 292.85L105.2 293.97L107.2 295L109.2 296L111.2 296.99L113.2 297.98L115.2 298.96L117.2 299.92L119.2 300.8L121.2 301.55L123.2 302.18L125.2 302.76L127.2 303.32L129.2 303.88L131.2 304.44L133.2 305L135.2 305.54L137.2 306.02L139.2 306.37L141.2 306.57L143.2 306.67L145.2 306.73L147.2 306.8L149.2 306.91L151.2 307.08L153.2 307.3L155.2 307.56L157.2 307.84L159.2 308.17L161.2 308.59L163.2 309.07L165.2 309.58L167.2 310.1L169.2 310.62L171.2 311.15L173.2 311.67L175.2 312.2L177.2 312.74L179.2 313.31L181.2 313.93L183.2 314.59L185.2 315.27L187.2 315.95L189.2 316.64L191.2 317.32L193.2 318L195.2 318.68L197.2 319.37L199.2 320.05" fill="none" stroke="#B060FF" stroke-width="2.0" stroke-linecap="butt" stroke-linejoin="round"/>
<text x="120.5" y="196.6" font-size="10.4" fill="#000" stroke="#000" stroke-width="0.12" text-anchor="middle">QCD-FCMn-E. Scenario 1.2 (T=750)</text>
<text x="120.5" y="364" font-size="11.5" fill="#000" stroke="#000" stroke-width="0.3" style="font-family:'Liberation Serif',serif" text-anchor="middle">β</text>
<text transform="translate(8.5 270.5) rotate(-90)" font-size="11" fill="#000" stroke="#000" stroke-width="0.15" text-anchor="middle">Success rate</text>
<rect x="250" y="203.7" width="173" height="133.6" fill="#E5E5E5"/>
<line x1="250" x2="423" y1="316.75" y2="316.75" stroke="#EAEAEA" stroke-width="0.9"/>
<line x1="250" x2="423" y1="288.05" y2="288.05" stroke="#EAEAEA" stroke-width="0.9"/>
<line x1="250" x2="423" y1="259.35" y2="259.35" stroke="#EAEAEA" stroke-width="0.9"/>
<line x1="250" x2="423" y1="230.65" y2="230.65" stroke="#EAEAEA" stroke-width="0.9"/>
<line x1="287.65" x2="287.65" y1="203.7" y2="337.3" stroke="#EAEAEA" stroke-width="0.9"/>
<line x1="348.35" x2="348.35" y1="203.7" y2="337.3" stroke="#EAEAEA" stroke-width="0.9"/>
<line x1="409.05" x2="409.05" y1="203.7" y2="337.3" stroke="#EAEAEA" stroke-width="0.9"/>
<line x1="250" x2="423" y1="331.1" y2="331.1" stroke="#F2F2F2" stroke-width="1.2"/>
<line x1="250" x2="423" y1="302.4" y2="302.4" stroke="#F2F2F2" stroke-width="1.2"/>
<line x1="250" x2="423" y1="273.7" y2="273.7" stroke="#F2F2F2" stroke-width="1.2"/>
<line x1="250" x2="423" y1="245" y2="245" stroke="#F2F2F2" stroke-width="1.2"/>
<line x1="250" x2="423" y1="216.3" y2="216.3" stroke="#F2F2F2" stroke-width="1.2"/>
<line x1="257.3" x2="257.3" y1="203.7" y2="337.3" stroke="#F2F2F2" stroke-width="1.2"/>
<line x1="318" x2="318" y1="203.7" y2="337.3" stroke="#F2F2F2" stroke-width="1.2"/>
<line x1="378.7" x2="378.7" y1="203.7" y2="337.3" stroke="#F2F2F2" stroke-width="1.2"/>
<line x1="247" x2="250" y1="331.1" y2="331.1" stroke="#666" stroke-width="0.9"/>
<text transform="translate(243.7 335.4) scale(1.03 1)" font-size="10" fill="#4D4D4D" stroke="#4D4D4D" stroke-width="0.15" text-anchor="end">0.0</text>
<line x1="247" x2="250" y1="302.4" y2="302.4" stroke="#666" stroke-width="0.9"/>
<text transform="translate(243.7 306.7) scale(1.03 1)" font-size="10" fill="#4D4D4D" stroke="#4D4D4D" stroke-width="0.15" text-anchor="end">0.2</text>
<line x1="247" x2="250" y1="273.7" y2="273.7" stroke="#666" stroke-width="0.9"/>
<text transform="translate(243.7 278) scale(1.03 1)" font-size="10" fill="#4D4D4D" stroke="#4D4D4D" stroke-width="0.15" text-anchor="end">0.4</text>
<line x1="247" x2="250" y1="245" y2="245" stroke="#666" stroke-width="0.9"/>
<text transform="translate(243.7 249.3) scale(1.03 1)" font-size="10" fill="#4D4D4D" stroke="#4D4D4D" stroke-width="0.15" text-anchor="end">0.6</text>
<line x1="247" x2="250" y1="216.3" y2="216.3" stroke="#666" stroke-width="0.9"/>
<text transform="translate(243.7 220.6) scale(1.03 1)" font-size="10" fill="#4D4D4D" stroke="#4D4D4D" stroke-width="0.15" text-anchor="end">0.8</text>
<line x1="257.3" x2="257.3" y1="337.3" y2="340.3" stroke="#666" stroke-width="0.9"/>
<text transform="translate(257.3 349.8) scale(1.08 1)" font-size="10" fill="#4D4D4D" stroke="#4D4D4D" stroke-width="0.15" text-anchor="middle">0</text>
<line x1="318" x2="318" y1="337.3" y2="340.3" stroke="#666" stroke-width="0.9"/>
<text transform="translate(318 349.8) scale(1.08 1)" font-size="10" fill="#4D4D4D" stroke="#4D4D4D" stroke-width="0.15" text-anchor="middle">10</text>
<line x1="378.7" x2="378.7" y1="337.3" y2="340.3" stroke="#666" stroke-width="0.9"/>
<text transform="translate(378.7 349.8) scale(1.08 1)" font-size="10" fill="#4D4D4D" stroke="#4D4D4D" stroke-width="0.15" text-anchor="middle">20</text>
<path d="M257.3 318.48L259.3 311.79L261.3 305.19L263.3 298.84L265.3 292.83L267.3 287.25L269.3 282.2L271.3 277.79L273.3 273.93L275.3 270.46L277.3 267.27L279.3 264.27L281.3 261.38L283.3 258.67L285.3 256.34L287.3 254.5L289.3 253.02L291.3 251.68L293.3 250.41L295.3 249.26L297.3 248.5L299.3 248.45L301.3 249.1L303.3 250.14L305.3 251.36L307.3 252.76L309.3 254.43L311.3 256.35L313.3 258.39L315.3 260.47L317.3 262.55L319.3 264.61L321.3 266.64L323.3 268.66L325.3 270.67L327.3 272.68L329.3 274.69L331.3 276.7L333.3 278.72L335.3 280.78L337.3 282.88L339.3 285.01L341.3 287.17L343.3 289.32L345.3 291.47L347.3 293.59L349.3 295.62L351.3 297.51L353.3 299.31L355.3 301.06L357.3 302.79L359.3 304.52L361.3 306.25L363.3 307.95L365.3 309.58L367.3 311.08L369.3 312.47L371.3 313.81L373.3 315.12L375.3 316.43L377.3 317.71L379.3 318.88L381.3 319.9L383.3 320.77L385.3 321.58L387.3 322.37L389.3 323.15L391.3 323.93L393.3 324.71L395.3 325.45L397.3 326.11L399.3 326.65L401.3 327.1L403.3 327.5L405.3 327.9L407.3 328.29L409.3 328.69L411.3 329.08L413.3 329.47L415.3 329.86L415.73 329.96" fill="none" stroke="#F05A55" stroke-width="2.0" stroke-linecap="butt" stroke-linejoin="round"/>
<path d="M257.3 322.35L259.3 315.79L261.3 309.26L263.3 302.84L265.3 296.57L267.3 290.53L269.3 284.86L271.3 279.81L273.3 275.51L275.3 271.93L277.3 268.93L279.3 266.49L281.3 264.59L283.3 263.09L285.3 261.91L287.3 261.19L289.3 261.13L291.3 261.61L293.3 262.43L295.3 263.64L297.3 265.52L299.3 268.15L301.3 271.18L303.3 274.11L305.3 276.63L307.3 278.77L309.3 280.73L311.3 282.66L313.3 284.6L315.3 286.53L317.3 288.41L319.3 290.21L321.3 291.91L323.3 293.59L325.3 295.32L327.3 297.07L329.3 298.84L331.3 300.6L333.3 302.35L335.3 304.06L337.3 305.72L339.3 307.33L341.3 308.92L343.3 310.5L345.3 312.08L347.3 313.64L349.3 315.14L351.3 316.57L353.3 317.94L355.3 319.27L357.3 320.61L359.3 321.94L361.3 323.26L363.3 324.55L365.3 325.74L367.3 326.77L369.3 327.66L371.3 328.48L373.3 329.27L375.3 330.06L377.18 330.83" fill="none" stroke="#6FA800" stroke-width="2.0" stroke-linecap="butt" stroke-linejoin="round"/>
<path d="M257.3 315.89L259.3 310.11L261.3 304.47L263.3 299.32L265.3 295.09L267.3 291.8L269.3 289.1L271.3 286.65L273.3 284.44L275.3 282.59L277.3 281.1L279.3 279.95L281.3 279.36L283.3 279.65L285.3 280.77L287.3 282.36L289.3 284.11L291.3 285.99L293.3 288.02L295.3 290.18L297.3 292.4L299.3 294.65L301.3 296.89L303.3 299.14L305.3 301.37L307.3 303.56L309.3 305.68L311.3 307.74L313.3 309.77L315.3 311.79L317.3 313.79L319.3 315.72L321.3 317.49L323.3 319L325.3 320.29L327.3 321.5L329.3 322.67L331.3 323.83L333.3 324.92L335.3 325.86L337.3 326.56L339.3 327.08L341.3 327.51L343.3 327.91L345.3 328.32L347.3 328.71L349.3 329.07L351.3 329.32L353.3 329.41L355.3 329.33L357.3 329.18L359.3 329L361.3 328.82L363.3 328.64L365.3 328.46L367.3 328.27L367.77 328.23" fill="none" stroke="#00B8C0" stroke-width="2.0" stroke-linecap="butt" stroke-linejoin="round"/>
<path d="M257.3 317.62L259.3 312.4L261.3 307.45L263.3 303.06L265.3 299.35L267.3 296.32L269.3 294.29L271.3 293.78L273.3 294.96L275.3 297.52L277.3 300.92L279.3 304.6L281.3 308.03L283.3 310.86L285.3 313.1L287.3 315.01L289.3 316.79L291.3 318.44L293.3 319.91L295.3 321.22L297.3 322.46L299.3 323.68L301.3 324.89L303.3 326.09L305.3 327.24L307.3 328.22L309.3 328.94L311.3 329.42L313.3 329.78L315.3 330.09L317.3 330.4L318 330.55" fill="none" stroke="#B060FF" stroke-width="2.0" stroke-linecap="butt" stroke-linejoin="round"/>
<text x="336.5" y="196.6" font-size="10.4" fill="#000" stroke="#000" stroke-width="0.12" text-anchor="middle">W-FCMn-E. Scenario 1.2 (T=750)</text>
<text x="336.5" y="364" font-size="11.5" fill="#000" stroke="#000" stroke-width="0.3" style="font-family:'Liberation Serif',serif" text-anchor="middle">β</text>
<text transform="translate(224.5 270.5) rotate(-90)" font-size="11" fill="#000" stroke="#000" stroke-width="0.15" text-anchor="middle">Success rate</text>
<rect x="466" y="203.7" width="174" height="133.6" fill="#E5E5E5"/>
<line x1="466" x2="640" y1="316.75" y2="316.75" stroke="#EAEAEA" stroke-width="0.9"/>
<line x1="466" x2="640" y1="288.05" y2="288.05" stroke="#EAEAEA" stroke-width="0.9"/>
<line x1="466" x2="640" y1="259.35" y2="259.35" stroke="#EAEAEA" stroke-width="0.9"/>
<line x1="466" x2="640" y1="230.65" y2="230.65" stroke="#EAEAEA" stroke-width="0.9"/>
<line x1="489.7" x2="489.7" y1="203.7" y2="337.3" stroke="#EAEAEA" stroke-width="0.9"/>
<line x1="521.3" x2="521.3" y1="203.7" y2="337.3" stroke="#EAEAEA" stroke-width="0.9"/>
<line x1="552.9" x2="552.9" y1="203.7" y2="337.3" stroke="#EAEAEA" stroke-width="0.9"/>
<line x1="584.5" x2="584.5" y1="203.7" y2="337.3" stroke="#EAEAEA" stroke-width="0.9"/>
<line x1="616.1" x2="616.1" y1="203.7" y2="337.3" stroke="#EAEAEA" stroke-width="0.9"/>
<line x1="466" x2="640" y1="331.1" y2="331.1" stroke="#F2F2F2" stroke-width="1.2"/>
<line x1="466" x2="640" y1="302.4" y2="302.4" stroke="#F2F2F2" stroke-width="1.2"/>
<line x1="466" x2="640" y1="273.7" y2="273.7" stroke="#F2F2F2" stroke-width="1.2"/>
<line x1="466" x2="640" y1="245" y2="245" stroke="#F2F2F2" stroke-width="1.2"/>
<line x1="466" x2="640" y1="216.3" y2="216.3" stroke="#F2F2F2" stroke-width="1.2"/>
<line x1="473.9" x2="473.9" y1="203.7" y2="337.3" stroke="#F2F2F2" stroke-width="1.2"/>
<line x1="505.5" x2="505.5" y1="203.7" y2="337.3" stroke="#F2F2F2" stroke-width="1.2"/>
<line x1="537.1" x2="537.1" y1="203.7" y2="337.3" stroke="#F2F2F2" stroke-width="1.2"/>
<line x1="568.7" x2="568.7" y1="203.7" y2="337.3" stroke="#F2F2F2" stroke-width="1.2"/>
<line x1="600.3" x2="600.3" y1="203.7" y2="337.3" stroke="#F2F2F2" stroke-width="1.2"/>
<line x1="631.9" x2="631.9" y1="203.7" y2="337.3" stroke="#F2F2F2" stroke-width="1.2"/>
<line x1="463" x2="466" y1="331.1" y2="331.1" stroke="#666" stroke-width="0.9"/>
<text transform="translate(459.7 335.4) scale(1.03 1)" font-size="10" fill="#4D4D4D" stroke="#4D4D4D" stroke-width="0.15" text-anchor="end">0.0</text>
<line x1="463" x2="466" y1="302.4" y2="302.4" stroke="#666" stroke-width="0.9"/>
<text transform="translate(459.7 306.7) scale(1.03 1)" font-size="10" fill="#4D4D4D" stroke="#4D4D4D" stroke-width="0.15" text-anchor="end">0.2</text>
<line x1="463" x2="466" y1="273.7" y2="273.7" stroke="#666" stroke-width="0.9"/>
<text transform="translate(459.7 278) scale(1.03 1)" font-size="10" fill="#4D4D4D" stroke="#4D4D4D" stroke-width="0.15" text-anchor="end">0.4</text>
<line x1="463" x2="466" y1="245" y2="245" stroke="#666" stroke-width="0.9"/>
<text transform="translate(459.7 249.3) scale(1.03 1)" font-size="10" fill="#4D4D4D" stroke="#4D4D4D" stroke-width="0.15" text-anchor="end">0.6</text>
<line x1="463" x2="466" y1="216.3" y2="216.3" stroke="#666" stroke-width="0.9"/>
<text transform="translate(459.7 220.6) scale(1.03 1)" font-size="10" fill="#4D4D4D" stroke="#4D4D4D" stroke-width="0.15" text-anchor="end">0.8</text>
<line x1="473.9" x2="473.9" y1="337.3" y2="340.3" stroke="#666" stroke-width="0.9"/>
<text transform="translate(473.9 349.8) scale(1.08 1)" font-size="10" fill="#4D4D4D" stroke="#4D4D4D" stroke-width="0.15" text-anchor="middle">0</text>
<line x1="505.5" x2="505.5" y1="337.3" y2="340.3" stroke="#666" stroke-width="0.9"/>
<text transform="translate(505.5 349.8) scale(1.08 1)" font-size="10" fill="#4D4D4D" stroke="#4D4D4D" stroke-width="0.15" text-anchor="middle">10</text>
<line x1="537.1" x2="537.1" y1="337.3" y2="340.3" stroke="#666" stroke-width="0.9"/>
<text transform="translate(537.1 349.8) scale(1.08 1)" font-size="10" fill="#4D4D4D" stroke="#4D4D4D" stroke-width="0.15" text-anchor="middle">20</text>
<line x1="568.7" x2="568.7" y1="337.3" y2="340.3" stroke="#666" stroke-width="0.9"/>
<text transform="translate(568.7 349.8) scale(1.08 1)" font-size="10" fill="#4D4D4D" stroke="#4D4D4D" stroke-width="0.15" text-anchor="middle">30</text>
<line x1="600.3" x2="600.3" y1="337.3" y2="340.3" stroke="#666" stroke-width="0.9"/>
<text transform="translate(600.3 349.8) scale(1.08 1)" font-size="10" fill="#4D4D4D" stroke="#4D4D4D" stroke-width="0.15" text-anchor="middle">40</text>
<line x1="631.9" x2="631.9" y1="337.3" y2="340.3" stroke="#666" stroke-width="0.9"/>
<text transform="translate(631.9 349.8) scale(1.08 1)" font-size="10" fill="#4D4D4D" stroke="#4D4D4D" stroke-width="0.15" text-anchor="middle">50</text>
<path d="M473.9 300.39L475.9 295.79L477.9 291.19L479.9 286.6L481.9 282.05L483.9 277.61L485.9 273.43L487.9 269.61L489.9 266.05L491.9 262.61L493.9 259.26L495.9 256.09L497.9 253.21L499.9 250.63L501.9 248.31L503.9 246.37L505.9 244.91L507.9 243.87L509.9 243.05L511.9 242.44L513.9 242.17L515.9 242.29L517.9 242.66L519.9 243.13L521.9 243.64L523.9 244.21L525.9 244.88L527.9 245.62L529.9 246.39L531.9 247.17L533.9 247.95L535.9 248.74L537.9 249.54L539.9 250.4L541.9 251.31L543.9 252.28L545.9 253.27L547.9 254.26L549.9 255.26L551.9 256.25L553.9 257.25L555.9 258.24L557.9 259.24L559.9 260.23L561.9 261.22L563.9 262.22L565.9 263.21L567.9 264.21L569.9 265.22L571.9 266.25L573.9 267.29L575.9 268.33L577.9 269.37L579.9 270.41L581.9 271.45L583.9 272.49L585.9 273.54L587.9 274.58L589.9 275.62L591.9 276.66L593.9 277.7L595.9 278.74L597.9 279.78L599.9 280.78L601.9 281.76L603.9 282.72L605.9 283.67L607.9 284.61L609.9 285.55L611.9 286.5L613.9 287.44L615.9 288.39L617.9 289.35L619.9 290.31L621.9 291.27L623.9 292.24L625.9 293.2L627.9 294.16L629.9 295.12L631.9 296.09" fill="none" stroke="#F05A55" stroke-width="2.0" stroke-linecap="butt" stroke-linejoin="round"/>
<path d="M473.9 294.88L475.9 291.1L477.9 287.82L479.9 284.91L481.9 282.18L483.9 279.61L485.9 277.3L487.9 275.34L489.9 273.66L491.9 272.08L493.9 270.58L495.9 269.19L497.9 268L499.9 266.99L501.9 266.07L503.9 265.18L505.9 264.31L507.9 263.53L509.9 263.02L511.9 262.92L513.9 263.21L515.9 263.7L517.9 264.24L519.9 264.79L521.9 265.37L523.9 265.99L525.9 266.7L527.9 267.46L529.9 268.25L531.9 269.05L533.9 269.85L535.9 270.65L537.9 271.47L539.9 272.34L541.9 273.25L543.9 274.21L545.9 275.18L547.9 276.16L549.9 277.14L551.9 278.13L553.9 279.13L555.9 280.17L557.9 281.27L559.9 282.42L561.9 283.59L563.9 284.77L565.9 285.94L567.9 287.1L569.9 288.21L571.9 289.27L573.9 290.29L575.9 291.3L577.9 292.29L579.9 293.29L581.9 294.29L583.9 295.29L585.9 296.28L587.9 297.27L589.9 298.27L591.9 299.26L593.9 300.25L595.9 301.23L597.9 302.19L599.9 303.08L601.9 303.88L603.9 304.61L605.9 305.31L607.9 306.01L609.9 306.7L611.9 307.4L613.9 308.08L615.9 308.73L617.9 309.34L619.9 309.92L621.9 310.49L623.9 311.05L625.9 311.62L627.9 312.18L629.9 312.74L631.9 313.31" fill="none" stroke="#6FA800" stroke-width="2.0" stroke-linecap="butt" stroke-linejoin="round"/>
<path d="M473.9 301.68L475.9 299.77L477.9 297.86L479.9 295.95L481.9 294.06L483.9 292.25L485.9 290.63L487.9 289.26L489.9 288.09L491.9 287.01L493.9 285.97L495.9 285.01L497.9 284.18L499.9 283.46L501.9 282.81L503.9 282.21L505.9 281.73L507.9 281.53L509.9 281.72L511.9 282.23L513.9 282.87L515.9 283.54L517.9 284.22L519.9 284.9L521.9 285.6L523.9 286.34L525.9 287.15L527.9 288.01L529.9 288.89L531.9 289.78L533.9 290.67L535.9 291.56L537.9 292.47L539.9 293.42L541.9 294.41L543.9 295.43L545.9 296.48L547.9 297.52L549.9 298.57L551.9 299.61L553.9 300.66L555.9 301.7L557.9 302.74L559.9 303.78L561.9 304.82L563.9 305.85L565.9 306.88L567.9 307.88L569.9 308.81L571.9 309.64L573.9 310.39L575.9 311.11L577.9 311.83L579.9 312.54L581.9 313.25L583.9 313.96L585.9 314.65L587.9 315.33L589.9 316L591.9 316.66L593.9 317.32L595.9 317.98L597.9 318.6L599.9 319.16L601.9 319.63L603.9 320.02L605.9 320.39L607.9 320.74L609.9 321.1L611.9 321.45L613.9 321.81L615.9 322.15L617.9 322.49L619.9 322.82L621.9 323.15L623.9 323.48L625.9 323.81L627.9 324.13L629.9 324.46L631.9 324.79" fill="none" stroke="#00B8C0" stroke-width="2.0" stroke-linecap="butt" stroke-linejoin="round"/>
<path d="M473.9 303.26L475.9 302.37L477.9 301.48L479.9 300.6L481.9 299.71L483.9 298.83L485.9 298.01L487.9 297.31L489.9 296.79L491.9 296.41L493.9 296.09L495.9 295.79L497.9 295.5L499.9 295.2L501.9 294.94L503.9 294.76L505.9 294.73L507.9 294.87L509.9 295.22L511.9 295.79L513.9 296.55L515.9 297.4L517.9 298.26L519.9 299.13L521.9 300L523.9 300.89L525.9 301.79L527.9 302.71L529.9 303.63L531.9 304.56L533.9 305.48L535.9 306.4L537.9 307.29L539.9 308.09L541.9 308.79L543.9 309.41L545.9 309.99L547.9 310.56L549.9 311.13L551.9 311.69L553.9 312.21L555.9 312.68L557.9 313.1L559.9 313.5L561.9 313.89L563.9 314.28L565.9 314.66L567.9 315.04L569.9 315.38L571.9 315.68L573.9 315.94L575.9 316.2L577.9 316.45L579.9 316.7L581.9 316.95L583.9 317.2L585.9 317.45L587.9 317.71L589.9 317.98L591.9 318.25L593.9 318.52L595.9 318.78L597.9 319.03L599.9 319.24L601.9 319.41L603.9 319.54L605.9 319.65L607.9 319.76L609.9 319.86L611.9 319.97L613.9 320.07L615.9 320.15L617.9 320.21L619.9 320.26L621.9 320.3L623.9 320.34L625.9 320.37L627.9 320.41L629.9 320.44L631.9 320.48" fill="none" stroke="#B060FF" stroke-width="2.0" stroke-linecap="butt" stroke-linejoin="round"/>
<text x="553" y="196.6" font-size="10.4" fill="#000" stroke="#000" stroke-width="0.12" text-anchor="middle">C-FCMn-E. Scenario 1.2 (T=750)</text>
<text x="553" y="364" font-size="11.5" fill="#000" stroke="#000" stroke-width="0.3" style="font-family:'Liberation Serif',serif" text-anchor="middle">β</text>
<text transform="translate(440.5 270.5) rotate(-90)" font-size="11" fill="#000" stroke="#000" stroke-width="0.15" text-anchor="middle">Success rate</text>
<rect x="209" y="386.8" width="14.3" height="10" fill="#E9E9E9"/>
<text x="248.5" y="398.0" font-size="10.5" fill="#000">1.0</text>
<rect x="270" y="386.8" width="14.3" height="10" fill="#E9E9E9"/>
<text x="309" y="398.0" font-size="10.5" fill="#000">2</text>
<rect x="320.5" y="386.8" width="14.3" height="10" fill="#E9E9E9"/>
<text x="359" y="398.0" font-size="10.5" fill="#000">3.0</text>
<rect x="381" y="386.8" width="14.3" height="10" fill="#E9E9E9"/>
<text x="420" y="398.0" font-size="10.5" fill="#000">3.5</text>
</svg></body></html>
